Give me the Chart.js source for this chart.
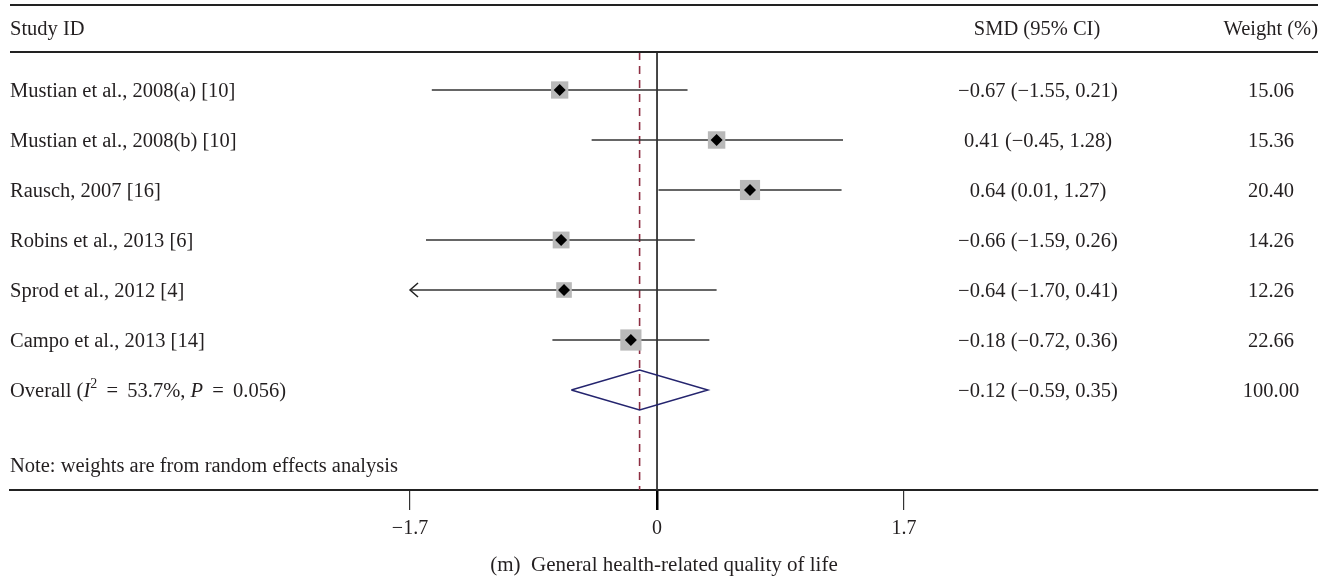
<!DOCTYPE html>
<html>
<head>
<meta charset="utf-8">
<script src="https://cdn.jsdelivr.net/npm/chart.js@4.4.1/dist/chart.umd.min.js"></script>
<style>
  html, body { margin: 0; padding: 0; background: #fff; }
</style>
</head>
<body>
<canvas id="forest" width="1331" height="579"></canvas>
<script>
// data
const studies = [
  'Mustian et al., 2008(a) [10]',
  'Mustian et al., 2008(b) [10]',
  'Rausch, 2007 [16]',
  'Robins et al., 2013 [6]',
  'Sprod et al., 2012 [4]',
  'Campo et al., 2013 [14]'
];
const smd = [-0.67, 0.41, 0.64, -0.66, -0.64, -0.18];
const ciLow = [-1.55, -0.45, 0.01, -1.59, -1.70, -0.72];
const ciHigh = [0.21, 1.28, 1.27, 0.26, 0.41, 0.36];
const weights = [15.06, 15.36, 20.40, 14.26, 12.26, 22.66];

const overallSmd = -0.12;
const overallLow = -0.59;
const overallHigh = 0.35;
const overallWeight = 100.00;
const overallI2 = '53.7%';
const overallP = '0.056';

const tickValues = [-1.7, 0, 1.7];
const axisLimit = -1.7;   // CIs reaching past this get an arrow

const FONT = "'Liberation Serif', 'DejaVu Serif', serif";
const SIZE = 20.5;
const INK = '#231f20';
const overallRow = studies.length;
const TEXT_DY = 2;   // nudge so the serif text sits centred on its row

const fmt = v => (v < 0 ? '\u2212' : '') + Math.abs(v).toFixed(2);
const ciText = (e, l, h) => `${fmt(e)} (${fmt(l)}, ${fmt(h)})`;

// one line dataset per confidence interval
const ciSets = studies.map((s, i) => ({
  type: 'line',
  data: [{ x: Math.max(ciLow[i], axisLimit), y: i }, { x: ciHigh[i], y: i }],
  borderColor: '#333',
  borderWidth: 1.5,
  pointRadius: 0,
  order: 2
}));

const tablePlugin = {
  id: 'tableText',
  afterDraw(chart) {
    const { ctx, scales: { x, y }, chartArea } = chart;
    ctx.save();
    ctx.fillStyle = INK;
    ctx.textBaseline = 'middle';
    ctx.font = `${SIZE}px ${FONT}`;

    // header rules
    ctx.strokeStyle = '#222';
    ctx.lineWidth = 2;
    [chartArea.top, y.getPixelForValue(-0.76)].forEach(py => {
      ctx.beginPath();
      ctx.moveTo(chartArea.left, py);
      ctx.lineTo(chartArea.right, py);
      ctx.stroke();
    });

    const hy = y.getPixelForValue(-1.24) + TEXT_DY;
    ctx.textAlign = 'left';
    ctx.fillText('Study ID', 10, hy);
    ctx.textAlign = 'center';
    ctx.fillText('SMD (95% CI)', 1037, hy);
    ctx.textAlign = 'right';
    ctx.fillText('Weight (%)', 1318, hy);

    studies.forEach((s, i) => {
      const py = y.getPixelForValue(i) + TEXT_DY;
      ctx.textAlign = 'left';
      ctx.fillText(s, 10, py);
      ctx.textAlign = 'center';
      ctx.fillText(ciText(smd[i], ciLow[i], ciHigh[i]), 1038, py);
      ctx.fillText(weights[i].toFixed(2), 1271, py);
    });

    // overall row, with italic I, superscript 2 and italic P
    const oy = y.getPixelForValue(overallRow) + TEXT_DY;
    ctx.textAlign = 'left';
    let px = 10;
    const parts = [
      ['Overall (', `${SIZE}px ${FONT}`, 0],
      ['I', `italic ${SIZE}px ${FONT}`, 0],
      ['2', `14px ${FONT}`, -8],
      [' \u2009=\u2009 ' + overallI2 + ', ', `${SIZE}px ${FONT}`, 0],
      ['P', `italic ${SIZE}px ${FONT}`, 0],
      [' \u2009=\u2009 ' + overallP + ')', `${SIZE}px ${FONT}`, 0]
    ];
    parts.forEach(([t, f, dy]) => {
      ctx.font = f;
      ctx.fillText(t, px, oy + dy);
      px += ctx.measureText(t).width;
    });
    ctx.font = `${SIZE}px ${FONT}`;
    ctx.textAlign = 'center';
    ctx.fillText(ciText(overallSmd, overallLow, overallHigh), 1038, oy);
    ctx.fillText(overallWeight.toFixed(2), 1271, oy);

    ctx.textAlign = 'left';
    ctx.fillText('Note: weights are from random effects analysis', 10, y.getPixelForValue(7.5) + TEXT_DY);

    // arrows for truncated intervals
    ctx.strokeStyle = '#222';
    ctx.lineWidth = 1.5;
    studies.forEach((s, i) => {
      if (ciLow[i] <= axisLimit) {
        const tx = x.getPixelForValue(axisLimit);
        const py = y.getPixelForValue(i);
        ctx.beginPath();
        ctx.moveTo(tx + 8, py - 7);
        ctx.lineTo(tx, py);
        ctx.lineTo(tx + 8, py + 7);
        ctx.stroke();
      }
    });
    ctx.restore();
  }
};

new Chart(document.getElementById('forest'), {
  type: 'scatter',
  data: {
    datasets: [
      {
        // study point estimates
        data: smd.map((v, i) => ({ x: v, y: i })),
        pointStyle: 'rectRot',
        pointRadius: 6,
        backgroundColor: '#000',
        borderWidth: 0,
        order: 0
      },
      {
        // weight boxes
        data: smd.map((v, i) => ({ x: v, y: i })),
        pointStyle: 'rect',
        pointRadius: ctx => 3.15 * Math.sqrt(weights[ctx.dataIndex] || 0),
        backgroundColor: '#b9b9b9',
        borderWidth: 0,
        order: 1
      },
      ...ciSets,
      {
        // pooled diamond
        type: 'line',
        data: [
          { x: overallLow, y: overallRow },
          { x: overallSmd, y: overallRow - 0.4 },
          { x: overallHigh, y: overallRow },
          { x: overallSmd, y: overallRow + 0.4 },
          { x: overallLow, y: overallRow }
        ],
        borderColor: '#24246e',
        borderWidth: 1.5,
        pointRadius: 0,
        fill: false,
        tension: 0,
        order: 2
      },
      {
        // line of no effect
        type: 'line',
        data: [{ x: 0, y: -0.76 }, { x: 0, y: 8 }],
        borderColor: '#333',
        borderWidth: 1.8,
        pointRadius: 0,
        clip: false,
        order: 3
      },
      {
        // pooled estimate reference
        type: 'line',
        data: [{ x: overallSmd, y: -0.76 }, { x: overallSmd, y: 8 }],
        borderColor: '#8e2f43',
        borderWidth: 1.6,
        borderDash: [8, 6],
        pointRadius: 0,
        clip: false,
        order: 3
      }
    ]
  },
  options: {
    responsive: false,
    animation: false,
    layout: { autoPadding: false, padding: { left: 10, right: 13, top: 5, bottom: 0 } },
    plugins: { legend: { display: false }, tooltip: { enabled: false } },
    scales: {
      x: {
        type: 'linear',
        min: -4.453,
        max: 4.549,
        afterFit: s => { s.height = 89; },
        afterBuildTicks: s => { s.ticks = tickValues.map(v => ({ value: v })); },
        border: { display: true, color: '#222', width: 2 },
        grid: {
          drawOnChartArea: false,
          drawTicks: true,
          tickLength: 20,
          color: c => (c.tick && c.tick.value === 0 ? '#000' : '#333'),
          lineWidth: c => (c.tick && c.tick.value === 0 ? 2.5 : 1.2)
        },
        ticks: {
          padding: 7,
          color: INK,
          font: { family: FONT, size: 20 },
          callback: v => (v < 0 ? '\u2212' : '') + Math.abs(v)
        },
        title: {
          display: true,
          text: '(m)  General health-related quality of life',
          color: INK,
          font: { family: FONT, size: 21 },
          padding: { top: 0, bottom: 1 }
        }
      },
      y: {
        type: 'linear',
        display: false,
        reverse: true,
        min: -1.7,
        max: 8
      }
    }
  },
  plugins: [tablePlugin]
});
</script>
</body>
</html>
